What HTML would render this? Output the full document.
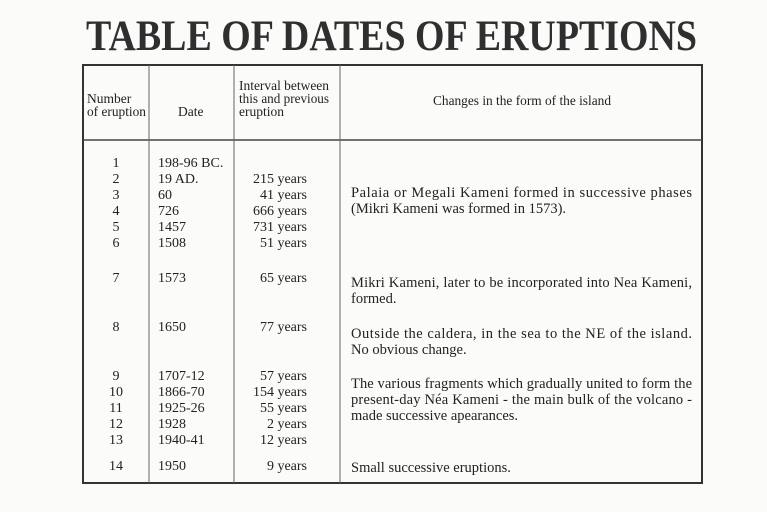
<!DOCTYPE html>
<html><head><meta charset="utf-8"><style>
html,body{margin:0;padding:0;background:#fbfbf9;}
svg{display:block}
text{font-family:"Liberation Serif",serif;fill:#222;}
</style></head><body>
<svg width="767" height="512" viewBox="0 0 767 512" xmlns="http://www.w3.org/2000/svg">
<rect width="767" height="512" fill="#fbfbf9"/>
<text x="86" y="50" font-size="43" font-weight="bold" textLength="611" lengthAdjust="spacingAndGlyphs" style="fill:#2e3030">TABLE OF DATES OF ERUPTIONS</text>
<rect x="83" y="65" width="619" height="418" fill="none" stroke="#333" stroke-width="2"/>
<line x1="83" y1="140" x2="702" y2="140" stroke="#444" stroke-width="1.5"/>
<line x1="149" y1="65" x2="149" y2="483" stroke="#666" stroke-width="1"/>
<line x1="234" y1="65" x2="234" y2="483" stroke="#666" stroke-width="1"/>
<line x1="340" y1="65" x2="340" y2="483" stroke="#666" stroke-width="1"/>
<g font-size="13.5">
<text x="87" y="103">Number</text>
<text x="87" y="116" textLength="59" lengthAdjust="spacingAndGlyphs">of eruption</text>
<text x="178" y="116">Date</text>
<text x="239" y="90" textLength="90" lengthAdjust="spacingAndGlyphs">Interval between</text>
<text x="239" y="103" textLength="90" lengthAdjust="spacingAndGlyphs">this and previous</text>
<text x="239" y="116">eruption</text>
<text x="433" y="105" textLength="178" lengthAdjust="spacingAndGlyphs">Changes in the form of the island</text>
</g>
<g font-size="14">
<g text-anchor="middle">
<text x="116" y="167">1</text><text x="116" y="183">2</text><text x="116" y="199">3</text>
<text x="116" y="215">4</text><text x="116" y="231">5</text><text x="116" y="247">6</text>
<text x="116" y="282">7</text><text x="116" y="331">8</text>
<text x="116" y="380">9</text><text x="116" y="396">10</text><text x="116" y="412">11</text>
<text x="116" y="428">12</text><text x="116" y="444">13</text><text x="116" y="470">14</text>
</g>
<text x="158" y="167">198-96 BC.</text><text x="158" y="183">19 AD.</text><text x="158" y="199">60</text>
<text x="158" y="215">726</text><text x="158" y="231">1457</text><text x="158" y="247">1508</text>
<text x="158" y="282">1573</text><text x="158" y="331">1650</text>
<text x="158" y="380">1707-12</text><text x="158" y="396">1866-70</text><text x="158" y="412">1925-26</text>
<text x="158" y="428">1928</text><text x="158" y="444">1940-41</text><text x="158" y="470">1950</text>
<g text-anchor="end">
<text x="307" y="183">215 years</text><text x="307" y="199">41 years</text>
<text x="307" y="215">666 years</text><text x="307" y="231">731 years</text><text x="307" y="247">51 years</text>
<text x="307" y="282">65 years</text><text x="307" y="331">77 years</text>
<text x="307" y="380">57 years</text><text x="307" y="396">154 years</text><text x="307" y="412">55 years</text>
<text x="307" y="428">2 years</text><text x="307" y="444">12 years</text><text x="307" y="470">9 years</text>
</g>
</g>
<g font-size="14.5">
<text x="351" y="197" textLength="341" lengthAdjust="spacing">Palaia or Megali Kameni formed in successive phases</text>
<text x="351" y="213">(Mikri Kameni was formed in 1573).</text>
<text x="351" y="287" textLength="341" lengthAdjust="spacing">Mikri Kameni, later to be incorporated into Nea Kameni,</text>
<text x="351" y="303">formed.</text>
<text x="351" y="338" textLength="341" lengthAdjust="spacing">Outside the caldera, in the sea to the NE of the island.</text>
<text x="351" y="354">No obvious change.</text>
<text x="351" y="388" textLength="341" lengthAdjust="spacing">The various fragments which gradually united to form the</text>
<text x="351" y="404" textLength="341" lengthAdjust="spacing">present-day Néa Kameni - the main bulk of the volcano -</text>
<text x="351" y="420">made successive apearances.</text>
<text x="351" y="472">Small successive eruptions.</text>
</g>
</svg>
</body></html>
